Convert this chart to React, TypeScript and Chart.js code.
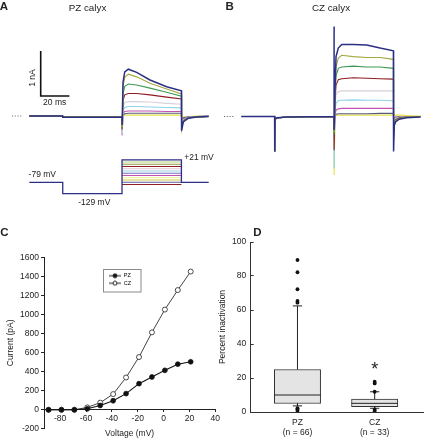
import React, { useEffect, useRef } from "react";
import { Chart, registerables } from "chart.js";

Chart.register(...registerables);

const FONT = "'Liberation Sans', Arial, Helvetica, sans-serif";
Chart.defaults.font.family = FONT;
Chart.defaults.color = "#222";

// ================= Panels A & B : current traces (ms, nA) =================
const TRACE_COLORS = ["#2c2f86", "#a5a83c", "#3e9a52", "#8f1d22", "#d8d0da", "#8ed2ea", "#c552b2", "#5a5a7e", "#e2e04c"];

// Panel A (PZ calyx)
const A_PRE_T = [0, 23.2, 23.3, 64.6];
const A_PRE_I = [0, 0, -0.025, -0.02];
const A_STEP_T = [64.6, 64.75, 65.3, 66.5, 69, 74.8, 84.1, 95.7, 106];
const A_STEP_I = [
  [0, -0.2, 0.75, 0.98, 1.04, 0.97, 0.8, 0.65, 0.56],
  [0, -0.25, 0.65, 0.86, 0.93, 0.87, 0.73, 0.6, 0.49],
  [0, -0.28, 0.5, 0.66, 0.71, 0.69, 0.62, 0.53, 0.44],
  [0, -0.3, 0.35, 0.47, 0.5, 0.5, 0.47, 0.42, 0.38],
  [0, -0.38, 0.2, 0.3, 0.32, 0.32, 0.31, 0.28, 0.26],
  [0, -0.4, 0.12, 0.19, 0.21, 0.21, 0.2, 0.19, 0.18],
  [0, -0.43, 0.05, 0.1, 0.11, 0.11, 0.11, 0.1, 0.1],
  [0, -0.35, 0.02, 0.05, 0.06, 0.06, 0.06, 0.06, 0.06],
  [0, -0.3, 0, 0.02, 0.02, 0.02, 0.02, 0.02, 0.02],
];
const A_TAIL_T = [106.1, 107.3, 110.8, 116.6, 125];
const A_TAIL_I = [
  [-0.33, -0.13, -0.05, -0.02, -0.01],
  [-0.3, -0.12, -0.05, -0.02, -0.01],
  [-0.27, -0.11, -0.04, -0.02, -0.01],
  [-0.25, -0.1, -0.04, -0.02, -0.01],
  [-0.22, -0.09, -0.04, -0.02, -0.01],
  [-0.18, -0.08, -0.03, -0.01, 0],
  [-0.14, -0.06, -0.03, -0.01, 0],
  [-0.1, -0.04, -0.02, -0.01, 0],
  [-0.06, -0.02, -0.01, 0, 0],
];

// Panel B (CZ calyx)
const B_PRE_T = [0, 23.2, 23.3, 23.5, 25, 32, 64.6];
const B_PRE_I = [0, 0, -0.78, -0.06, -0.03, -0.01, 0];
const B_STEP_T = [64.6, 64.65, 64.75, 65.3, 66, 67.6, 70, 78, 87.4, 96.7, 106];
const B_STEP_I = [
  [0, 2.0, -0.3, 0.6, 1.33, 1.52, 1.6, 1.6, 1.59, 1.52, 1.46],
  [0, 0, -0.35, 0.5, 1.1, 1.3, 1.36, 1.33, 1.31, 1.31, 1.27],
  [0, 0, -0.4, 0.4, 0.9, 1.07, 1.1, 1.12, 1.1, 1.1, 1.07],
  [0, 0, -0.75, 0.3, 0.7, 0.82, 0.84, 0.86, 0.85, 0.84, 0.83],
  [0, 0, -0.6, 0.2, 0.48, 0.55, 0.57, 0.57, 0.57, 0.57, 0.57],
  [0, 0, -1.15, 0.1, 0.3, 0.35, 0.36, 0.37, 0.36, 0.36, 0.35],
  [0, 0, -0.5, 0.05, 0.14, 0.17, 0.18, 0.18, 0.18, 0.18, 0.18],
  [0, 0, -0.3, 0.02, 0.05, 0.06, 0.06, 0.06, 0.06, 0.07, 0.07],
  [0, 0, -1.3, 0, 0.02, 0.03, 0.03, 0.03, 0.03, 0.03, 0.03],
];
const B_TAIL_T = [106.1, 106.6, 107.5, 110, 115, 125];
const B_TAIL_I = [
  [-0.78, -0.2, -0.12, -0.06, -0.03, -0.01],
  [-0.5, -0.15, -0.1, -0.05, -0.02, 0],
  [-0.45, -0.13, -0.08, -0.04, -0.02, 0],
  [-0.4, -0.12, -0.07, -0.03, -0.01, 0],
  [-0.3, -0.1, -0.05, -0.02, -0.01, 0],
  [-0.25, -0.08, -0.04, -0.02, -0.01, 0],
  [-0.2, -0.06, -0.03, -0.01, 0, 0],
  [-0.1, -0.03, -0.01, 0, 0, 0],
  [0.04, 0.04, 0.03, 0.03, 0.02, 0.01],
];

// Scale bar (20 ms, 1 nA) and baseline dots
const SCALE_T = [7.94, 7.94, 27.94];
const SCALE_I = [1.444, 0.444, 0.444];
const DOTS_T = [-12.1, -5.1];

// Voltage protocol (mV)
const PROTO_MAIN_T = [0, 23.3, 23.3, 64.6, 64.6, 106, 106, 125];
const PROTO_MAIN_V = [-79, -79, -129, -129, 21, 21, -79, -79];
const PROTO_STEPS = [11, 1, -9, -19, -29, -39, -49, -59, -69, -79, -89];
const PROTO_COLORS = ["#b9d47c", "#8c9a3c", "#8f1d22", "#e4c9d4", "#9ad4ea", "#7a6ac2", "#c552b2", "#eeee9a", "#d8cf44", "#5a5aa8", "#8f1d22"];
const PROTO_STEP_T = [64.6, 106];

// ================= Panel C : I-V curve =================
const VOLTAGES = [-89, -79, -69, -59, -49, -39, -29, -19, -9, 1, 11, 21];
const PZ_CURRENT = [-5, -5, -5, 5, 40, 90, 165, 270, 340, 410, 475, 500];
const CZ_CURRENT = [-5, -5, -5, 20, 70, 160, 335, 550, 810, 1050, 1255, 1450];
const C_X_TICKS = [-80, -60, -40, -20, 0, 20, 40];

// ================= Panel D : box plot =================
const GROUPS = ["PZ", "CZ"];
const GROUP_N = ["(n = 66)", "(n = 33)"];
const Q1 = [5, 3.1];
const MEDIAN = [10, 5.1];
const Q3 = [25, 7.6];
const WHISK_LO = [3.6, 2.2];
const WHISK_HI = [62.4, 11.9];
const OUTLIERS_PZ = [89.4, 82.2, 72.2, 65.3, 64.3, 2.2, 1.4, 0.8];
const OUTLIERS_CZ = [17.8, 16.8, 11.9, 1.4, 0.6];

const pts = (ts: number[], vs: number[]) => ts.map((t, i) => ({ x: t, y: vs[i] }));

function traceDatasets(preT: number[], preI: number[], stepT: number[], stepI: number[][], tailT: number[], tailI: number[][]) {
  return stepI.map((vals, k) => ({
    data: [...pts(preT, preI), ...pts(stepT, vals), ...pts(tailT, tailI[k])],
    borderColor: TRACE_COLORS[k],
    borderWidth: k === 0 ? 1.5 : 1.1,
    yAxisID: "y",
  }));
}

const baseOpts = (xmax: number, ymin: number, ymax: number, extraScales: any = {}) => ({
  animation: false,
  responsive: false,
  events: [],
  layout: { padding: 0 },
  plugins: { legend: { display: false }, tooltip: { enabled: false } },
  elements: { point: { radius: 0 }, line: { tension: 0 } },
  scales: {
    x: { type: "linear", min: -20.42, max: xmax, display: false },
    y: { type: "linear", min: ymin, max: ymax, display: false },
    ...extraScales,
  },
});

function configA() {
  const protoSteps = PROTO_STEPS.map((v, k) => ({
    data: pts(PROTO_STEP_T, [v, v]),
    borderColor: PROTO_COLORS[k],
    borderWidth: 1.1,
    yAxisID: "v",
  }));
  return {
    type: "line",
    data: {
      datasets: [
        { data: pts(SCALE_T, SCALE_I), borderColor: "#111", borderWidth: 1.6, yAxisID: "y" },
        { data: pts(DOTS_T, [0, 0]), borderColor: "#555", borderWidth: 1, borderDash: [1, 1.8], yAxisID: "y" },
        ...traceDatasets(A_PRE_T, A_PRE_I, A_STEP_T, A_STEP_I, A_TAIL_T, A_TAIL_I),
        { data: pts(PROTO_MAIN_T, PROTO_MAIN_V), borderColor: "#2c2f86", borderWidth: 1.3, yAxisID: "v" },
        ...protoSteps,
      ],
    },
    options: baseOpts(128, -2.311, 2.578, { v: { type: "linear", min: -246.6, max: 731.2, display: false } }),
  };
}

function configB() {
  return {
    type: "line",
    data: {
      datasets: [
        { data: pts(DOTS_T, [0, 0]), borderColor: "#555", borderWidth: 1, borderDash: [1, 1.8], yAxisID: "y" },
        ...traceDatasets(B_PRE_T, B_PRE_I, B_STEP_T, B_STEP_I, B_TAIL_T, B_TAIL_I),
      ],
    },
    options: baseOpts(129.4, -2.3, 2.589),
  };
}

function legendSymbol(filled: boolean) {
  const c = document.createElement("canvas");
  c.width = 12;
  c.height = 6;
  const ctx = c.getContext("2d")!;
  ctx.strokeStyle = "#222";
  ctx.lineWidth = 1;
  ctx.beginPath();
  ctx.moveTo(0, 3);
  ctx.lineTo(12, 3);
  ctx.stroke();
  ctx.beginPath();
  ctx.arc(6, 3, 2, 0, Math.PI * 2);
  ctx.fillStyle = filled ? "#111" : "#fff";
  ctx.fill();
  ctx.stroke();
  return c;
}

const legendPlacer = {
  id: "legendPlacer",
  beforeDraw(chart: any) {
    const lg = chart.legend;
    if (!lg) return;
    const ctx = chart.ctx;
    ctx.save();
    ctx.fillStyle = "#fff";
    ctx.strokeStyle = "#8a8a8a";
    ctx.lineWidth = 1;
    ctx.fillRect(103.5, 49.5, 37.5, 22.5);
    ctx.strokeRect(103.5, 49.5, 37.5, 22.5);
    ctx.restore();
    const w = lg.width;
    const h = lg.height;
    lg.left = 107;
    lg.top = 51;
    lg.right = 107 + w;
    lg.bottom = 51 + h;
  },
};

function configC() {
  const symPZ = legendSymbol(true);
  const symCZ = legendSymbol(false);
  return {
    type: "line",
    data: {
      datasets: [
        {
          label: "PZ",
          data: pts(VOLTAGES, PZ_CURRENT),
          borderColor: "#111",
          borderWidth: 1.1,
          pointRadius: 2.4,
          pointBackgroundColor: "#111",
          pointBorderColor: "#111",
          pointBorderWidth: 0.8,
        },
        {
          label: "CZ",
          data: pts(VOLTAGES, CZ_CURRENT),
          borderColor: "#444",
          borderWidth: 1,
          pointRadius: 2.5,
          pointBackgroundColor: "#fff",
          pointBorderColor: "#222",
          pointBorderWidth: 0.8,
        },
      ],
    },
    plugins: [legendPlacer],
    options: {
      animation: false,
      responsive: false,
      events: [],
      layout: { padding: { top: 37.3, right: 6.6, left: 0, bottom: 29.7 } },
      plugins: {
        tooltip: { enabled: false },
        legend: {
          position: "chartArea",
          align: "start",
          labels: {
            usePointStyle: true,
            pointStyleWidth: 12,
            padding: 2,
            font: { size: 5.5 },
            color: "#333",
            generateLabels: () => [
              { text: "PZ", pointStyle: symPZ, fillStyle: "#111", strokeStyle: "#111", lineWidth: 0, hidden: false, datasetIndex: 0 },
              { text: "CZ", pointStyle: symCZ, fillStyle: "#fff", strokeStyle: "#111", lineWidth: 0, hidden: false, datasetIndex: 1 },
            ],
          },
        },
      },
      elements: { line: { tension: 0 } },
      scales: {
        x: {
          type: "linear",
          min: -92.5,
          max: 40,
          position: { y: 0 },
          afterBuildTicks: (s: any) => {
            s.ticks = C_X_TICKS.map((v) => ({ value: v }));
          },
          afterFit: (s: any) => {
            s.height = 29.7;
          },
          grid: { drawOnChartArea: false, tickLength: 2, color: "#222" },
          border: { color: "#222", width: 1 },
          ticks: { font: { size: 8.5 }, padding: 2, color: "#222", maxRotation: 0, autoSkip: false, callback: (v: number) => String(v) },
          title: { display: true, text: "Voltage (mV)", font: { size: 8.5 }, color: "#222", padding: 0 },
        },
        y: {
          type: "linear",
          min: -200,
          max: 1600,
          afterFit: (s: any) => {
            s.width = 44;
          },
          grid: { drawOnChartArea: false, tickLength: 3, color: "#222" },
          border: { color: "#222", width: 1 },
          ticks: { stepSize: 200, font: { size: 8.5 }, padding: 2, color: "#222", callback: (v: number) => String(v) },
          title: { display: true, text: "Current (pA)", font: { size: 8.5 }, color: "#222", padding: { top: 6, bottom: 0 } },
        },
      },
    },
  };
}

function configD() {
  const xs = [1, 2];
  const HALF = 0.3;
  const CAP = 0.06;
  const seg: any[] = [];
  xs.forEach((x, k) => {
    seg.push({ x: x - HALF, y: MEDIAN[k] }, { x: x + HALF, y: MEDIAN[k] }, { x: x, y: null });
    seg.push({ x, y: Q3[k] }, { x, y: WHISK_HI[k] }, { x, y: null });
    seg.push({ x: x - CAP, y: WHISK_HI[k] }, { x: x + CAP, y: WHISK_HI[k] }, { x, y: null });
    seg.push({ x, y: Q1[k] }, { x, y: WHISK_LO[k] }, { x, y: null });
    seg.push({ x: x - CAP, y: WHISK_LO[k] }, { x: x + CAP, y: WHISK_LO[k] }, { x, y: null });
  });
  const outliers = [...OUTLIERS_PZ.map((y) => ({ x: 1, y })), ...OUTLIERS_CZ.map((y) => ({ x: 2, y }))];
  return {
    type: "line",
    data: {
      datasets: [
        { type: "scatter", data: outliers, pointRadius: 1.9, pointBackgroundColor: "#111", pointBorderColor: "#111", borderWidth: 0 },
        { type: "line", data: seg, borderColor: "#222", borderWidth: 1, pointRadius: 0, spanGaps: false },
        {
          type: "bar",
          data: xs.map((x, k) => ({ x, y: [Q1[k], Q3[k]] })),
          backgroundColor: "#e4e4e4",
          borderColor: "#333",
          borderWidth: 1,
          borderSkipped: false,
          barThickness: 46.3,
        },
      ],
    },
    options: {
      animation: false,
      responsive: false,
      events: [],
      layout: { padding: { top: 22, right: 4, left: 0, bottom: 0 } },
      plugins: { legend: { display: false }, tooltip: { enabled: false } },
      scales: {
        x: {
          type: "linear",
          min: 0.394,
          max: 2.626,
          offset: false,
          afterBuildTicks: (s: any) => {
            s.ticks = xs.map((v) => ({ value: v }));
          },
          afterFit: (s: any) => {
            s.height = 28;
          },
          grid: { drawOnChartArea: false, drawTicks: false },
          border: { color: "#333", width: 1 },
          ticks: {
            font: { size: 8.5, lineHeight: 1.15 },
            padding: 5.7,
            color: "#222",
            maxRotation: 0,
            autoSkip: false,
            callback: (v: number) => [GROUPS[v - 1], GROUP_N[v - 1]],
          },
        },
        y: {
          type: "linear",
          min: 0,
          max: 100,
          afterFit: (s: any) => {
            s.width = 37.7;
          },
          grid: { drawOnChartArea: false, tickLength: -3, color: "#333" },
          border: { color: "#333", width: 1 },
          ticks: { stepSize: 20, font: { size: 8.5 }, padding: 7.4, color: "#222" },
          title: { display: true, text: "Percent inactivation", font: { size: 8.5 }, color: "#222", padding: { top: 4.3, bottom: 0 } },
        },
      },
    },
  };
}

function ChartCanvas({ make, left, top, width, height }: any) {
  const ref = useRef<HTMLCanvasElement>(null);
  useEffect(() => {
    const chart = new Chart(ref.current as HTMLCanvasElement, make());
    return () => chart.destroy();
  }, []);
  return <canvas ref={ref} width={width} height={height} style={{ position: "absolute", left, top, width, height }} />;
}

function Txt({ x, y, children, size = 8.5, bold = false, rot = 0 }: any) {
  return (
    <div
      style={{
        position: "absolute",
        left: x,
        top: y,
        transform: `translate(-50%, -50%) rotate(${rot}deg)`,
        fontSize: size,
        fontWeight: bold ? 700 : 400,
        lineHeight: 1,
        whiteSpace: "nowrap",
        color: "#222",
        fontFamily: FONT,
      }}
    >
      {children}
    </div>
  );
}

export default function App() {
  return (
    <div style={{ position: "absolute", left: 0, top: 0, width: 427, height: 440, overflow: "hidden", background: "#fff" }}>
      <ChartCanvas make={configA} left={0} top={0} width={213} height={220} />
      <ChartCanvas make={configB} left={212} top={0} width={215} height={220} />
      <ChartCanvas make={configC} left={0} top={220} width={222} height={238} />
      <ChartCanvas make={configD} left={213} top={220} width={214} height={220} />

      <Txt x={4} y={6.5} size={11.5} bold>A</Txt>
      <Txt x={87.5} y={7.5} size={9.8}>PZ calyx</Txt>
      <Txt x={229.7} y={6.5} size={11.5} bold>B</Txt>
      <Txt x={331} y={7.5} size={9.8}>CZ calyx</Txt>
      <Txt x={31.7} y={78} rot={-90}>1 nA</Txt>
      <Txt x={54.7} y={102.3}>20 ms</Txt>
      <Txt x={42.3} y={174}>-79 mV</Txt>
      <Txt x={94.3} y={201.7}>-129 mV</Txt>
      <Txt x={199} y={156.7}>+21 mV</Txt>
      <Txt x={4.5} y={232.7} size={11.5} bold>C</Txt>
      <Txt x={257.5} y={233.3} size={11.5} bold>D</Txt>
      <Txt x={374.7} y={368.5} size={18}>*</Txt>
    </div>
  );
}
